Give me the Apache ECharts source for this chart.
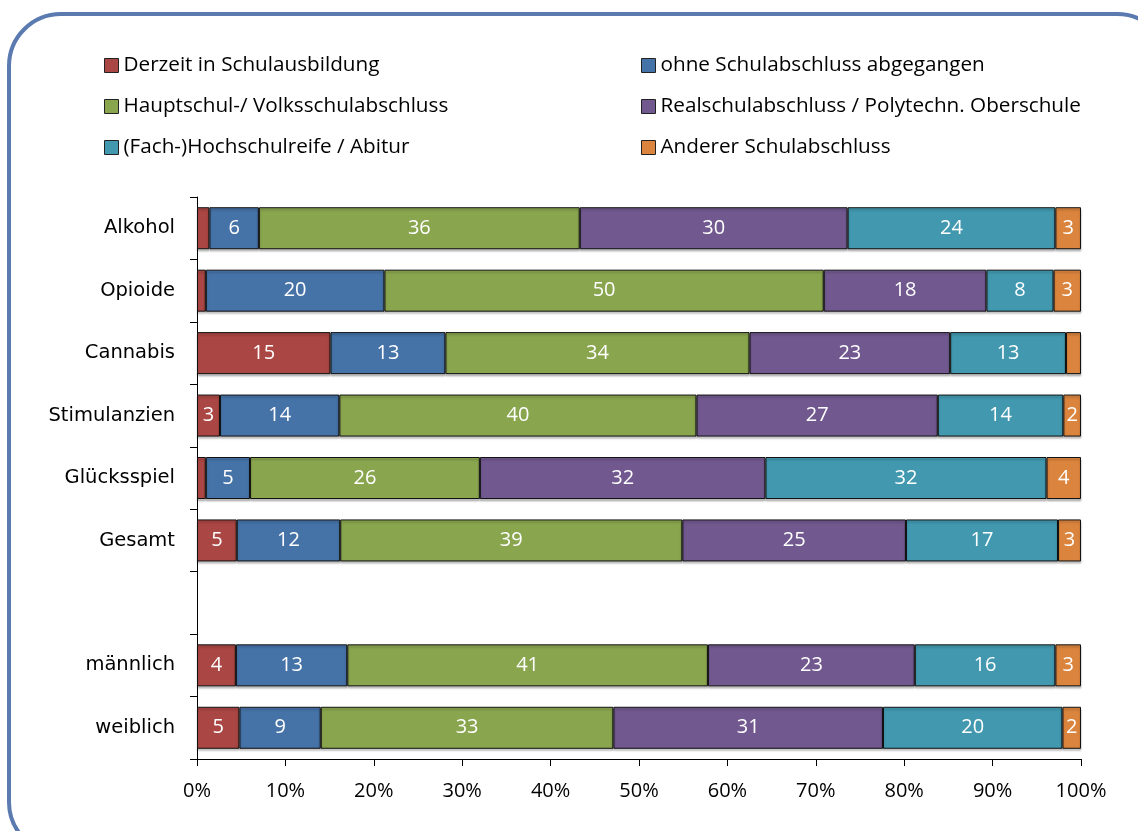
<!DOCTYPE html>
<html>
<head>
<meta charset="utf-8">
<title>Schulabschluss nach Hauptdiagnose</title>
<script src="https://cdn.jsdelivr.net/npm/echarts@6/dist/echarts.min.js"></script>
<style>
  html, body { margin: 0; padding: 0; background: #fff; }
  #chart { width: 1138px; height: 831px; }
</style>
</head>
<body>
<div id="chart"></div>
<script>
// Kategorien (leere Zeile trennt Substanzen von Geschlecht)
const categories = ['Alkohol', 'Opioide', 'Cannabis', 'Stimulanzien', 'Glücksspiel', 'Gesamt', '', 'männlich', 'weiblich']
const seriesNames = [
    'Derzeit in Schulausbildung',
    'ohne Schulabschluss abgegangen',
    'Hauptschul-/ Volksschulabschluss',
    'Realschulabschluss / Polytechn. Oberschule',
    '(Fach-)Hochschulreife / Abitur',
    'Anderer Schulabschluss'
]
const derzeit  = [1.4, 1.0, 15.1, 2.6, 1.0, 4.5, '-', 4.4, 4.8]
const ohne     = [5.6, 20.2, 13.0, 13.5, 5.0, 11.7, '-', 12.6, 9.2]
const haupt    = [36.3, 49.7, 34.4, 40.4, 26.0, 38.7, '-', 40.8, 33.1]
const real     = [30.3, 18.4, 22.7, 27.3, 32.3, 25.3, '-', 23.4, 30.5]
const abitur   = [23.5, 7.6, 13.1, 14.2, 31.8, 17.2, '-', 15.9, 20.3]
const anderer  = [2.9, 3.1, 1.7, 2.0, 3.9, 2.6, '-', 2.9, 2.1]
const xTicks = [0, 10, 20, 30, 40, 50, 60, 70, 80, 90, 100]

const colors = ['#AA4643', '#4572A7', '#89A54E', '#71588F', '#4198AF', '#DB843D']
const allData = [derzeit, ohne, haupt, real, abitur, anderer]
const font = '"Open Sans", Lato, sans-serif'
const catFont = '"DejaVu Sans", sans-serif'

const myChart = echarts.init(document.getElementById('chart'))

const series = allData.map((d, i) => ({
    name: seriesNames[i],
    type: 'bar',
    stack: 'total',
    barWidth: 42,
    data: d,
    itemStyle: {
        color: colors[i],
        borderColor: '#111',
        borderWidth: 1,
        shadowColor: 'rgba(0,0,0,0.25)',
        shadowOffsetY: 2,
        shadowBlur: 2
    },
    label: {
        show: true,
        position: 'inside',
        color: '#fff',
        fontFamily: font,
        fontSize: 20,
        formatter(p) {
            // kleine Segmente ohne Beschriftung
            return p.value >= 1.85 ? Math.round(p.value) : ''
        }
    }
}))

const legendBase = {
    orient: 'vertical',
    top: 50,
    itemWidth: 14,
    itemHeight: 14,
    itemGap: 20,
    icon: 'rect',
    itemStyle: { borderColor: '#222', borderWidth: 1 },
    textStyle: { fontFamily: font, fontSize: 20.7, lineHeight: 20, color: '#000' }
}

myChart.setOption({
    animation: false,
    color: colors,
    graphic: [{
        type: 'rect',
        shape: { x: 9, y: 14, width: 1160, height: 840, r: 52 },
        style: { fill: null, stroke: '#5A7AB0', lineWidth: 4 },
        silent: true
    }],
    legend: [
        Object.assign({}, legendBase, { left: 99, data: [seriesNames[0], seriesNames[2], seriesNames[4]] }),
        Object.assign({}, legendBase, { left: 636, data: [seriesNames[1], seriesNames[3], seriesNames[5]] })
    ],
    grid: {
        left: 197,
        right: 57,
        top: 197,
        bottom: 72
    },
    xAxis: {
        type: 'value',
        min: xTicks[0],
        max: xTicks[xTicks.length - 1],
        interval: 10,
        axisLine: { show: true, lineStyle: { color: '#000', width: 1 } },
        axisTick: { show: true, length: 7, lineStyle: { color: '#000' } },
        splitLine: { show: false },
        axisLabel: {
            margin: 22,
            color: '#000',
            fontFamily: font,
            fontSize: 20,
            formatter: '{value}%'
        }
    },
    yAxis: {
        type: 'category',
        inverse: true,
        data: categories,
        axisLine: { show: true, lineStyle: { color: '#000', width: 1 } },
        axisTick: { show: true, length: 7, lineStyle: { color: '#000' } },
        axisLabel: {
            margin: 22,
            color: '#000',
            fontFamily: catFont,
            fontSize: 19.5
        }
    },
    series: series
})
</script>
</body>
</html>
